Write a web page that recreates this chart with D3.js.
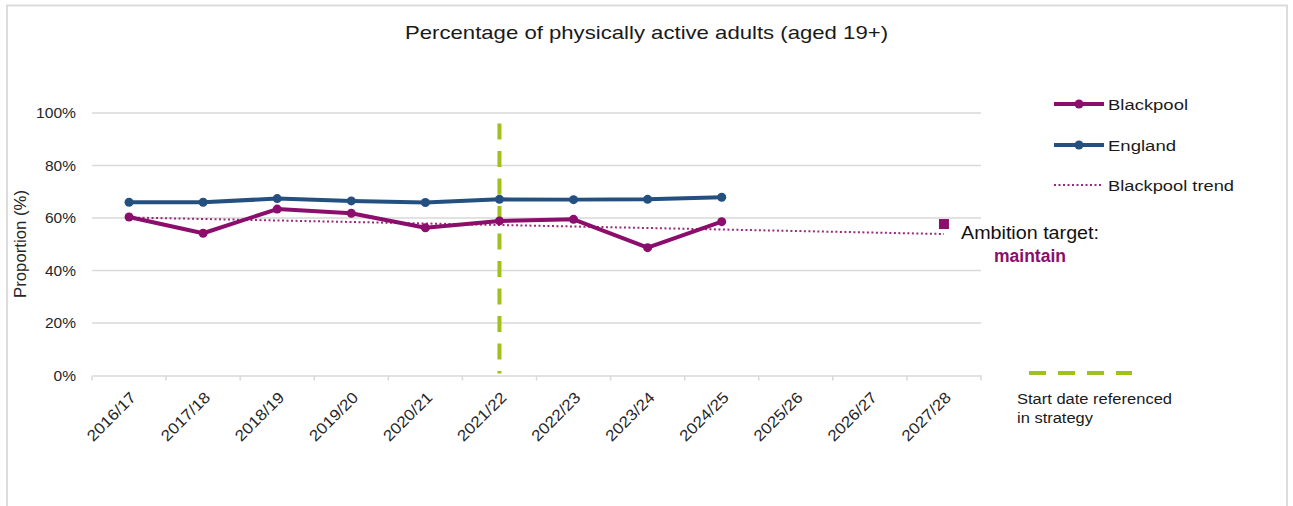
<!DOCTYPE html>
<html>
<head>
<meta charset="utf-8">
<script src="https://cdn.jsdelivr.net/npm/d3@7"></script>
<style>
  html, body { margin: 0; padding: 0; background: #fff; }
  svg { display: block; font-family: "Liberation Sans", Arial, sans-serif; }
</style>
</head>
<body>
<svg id="chart" width="1293" height="506"></svg>
<script>
// ---- data ----
const categories = ["2016/17","2017/18","2018/19","2019/20","2020/21","2021/22","2022/23","2023/24","2024/25","2025/26","2026/27","2027/28"];
const blackpoolCats = categories.slice(0, 9);
const blackpoolValues = [60.4, 54.2, 63.4, 61.8, 56.3, 58.9, 59.5, 48.7, 58.6];
const englandValues = [66.0, 66.0, 67.4, 66.5, 65.9, 67.1, 67.0, 67.1, 67.9];
const trendCats = ["2016/17", "2027/28"];
const trendValues = [60.2, 53.9];
const targetCat = "2027/28";
const targetValue = 57.7;
const startCat = "2021/22";
const startRange = [0.8, 96];
const yTicks = [0, 20, 40, 60, 80, 100];

const purple = "#8b0d6c";
const trendColor = "#9a2a7c";
const blue = "#24507f";
const green = "#9fc11c";
const grid = "#d9d9d9";

const svg = d3.select("#chart");

// outer frame
svg.append("path")
  .attr("d", "M7,506 V5.5 H1287 V506")
  .attr("fill", "none").attr("stroke", "#dcdcdc").attr("stroke-width", 2);

const x = d3.scaleBand().domain(categories).range([92, 981]);
const y = d3.scaleLinear().domain([0, 100]).range([375.5, 113]);
const cx = c => x(c) + x.bandwidth() / 2;

// title
svg.append("text")
  .attr("x", 405).attr("y", 39)
  .attr("font-size", 18.5).attr("fill", "#1a1a1a")
  .attr("textLength", 483).attr("lengthAdjust", "spacingAndGlyphs")
  .text("Percentage of physically active adults (aged 19+)");

// gridlines
svg.append("g").selectAll("line").data(yTicks.filter(d => d > 0)).join("line")
  .attr("x1", 92).attr("x2", 981)
  .attr("y1", d => y(d)).attr("y2", d => y(d))
  .attr("stroke", grid).attr("stroke-width", 1.5);

// y tick labels
svg.append("g").selectAll("text").data(yTicks).join("text")
  .attr("x", 76).attr("y", d => y(d)).attr("dy", "0.36em")
  .attr("text-anchor", "end").attr("font-size", 15).attr("fill", "#262626")
  .attr("textLength", d => d === 100 ? 40 : (d === 0 ? 22.5 : 31)).attr("lengthAdjust", "spacingAndGlyphs")
  .text(d => d + "%");

// y axis title
svg.append("text")
  .attr("transform", "translate(26,244) rotate(-90)")
  .attr("text-anchor", "middle").attr("font-size", 16).attr("fill", "#262626")
  .attr("textLength", 108).attr("lengthAdjust", "spacingAndGlyphs")
  .text("Proportion (%)");

// x axis
const xAxis = d3.axisBottom(x).tickSize(0).tickFormat("");
const gx = svg.append("g").attr("transform", `translate(0,${y(0)})`).call(xAxis);
gx.select(".domain").attr("stroke", grid).attr("stroke-width", 1.5);
// boundary tick marks
const bounds = categories.map(c => x(c)).concat([x(categories[categories.length - 1]) + x.bandwidth()]);
svg.append("g").selectAll("line").data(bounds).join("line")
  .attr("x1", d => d).attr("x2", d => d)
  .attr("y1", y(0)).attr("y2", y(0) + 5)
  .attr("stroke", grid).attr("stroke-width", 1.5);
// x tick labels
svg.append("g").selectAll("text").data(categories).join("text")
  .attr("transform", d => `translate(${cx(d) + 8},${y(0) + 23}) rotate(-45)`)
  .attr("text-anchor", "end").attr("font-size", 15.5).attr("fill", "#262626")
  .attr("textLength", 62).attr("lengthAdjust", "spacingAndGlyphs")
  .text(d => d);

// start date dashed line
svg.append("line")
  .attr("x1", cx(startCat)).attr("x2", cx(startCat))
  .attr("y1", y(startRange[1])).attr("y2", y(startRange[0]))
  .attr("stroke", green).attr("stroke-width", 4).attr("stroke-dasharray", "16,11.5");

// trend line
const line = d3.line().x(d => cx(d[0])).y(d => y(d[1]));
svg.append("path")
  .datum(trendCats.map((c, i) => [c, trendValues[i]]))
  .attr("d", line).attr("fill", "none")
  .attr("stroke", trendColor).attr("stroke-width", 2).attr("stroke-dasharray", "2,2.5");

// England
const engData = blackpoolCats.map((c, i) => [c, englandValues[i]]);
svg.append("path").datum(engData).attr("d", line)
  .attr("fill", "none").attr("stroke", blue).attr("stroke-width", 4).attr("stroke-linejoin", "round");
svg.append("g").selectAll("circle").data(engData).join("circle")
  .attr("cx", d => cx(d[0])).attr("cy", d => y(d[1])).attr("r", 4.5).attr("fill", blue);

// Blackpool
const bpData = blackpoolCats.map((c, i) => [c, blackpoolValues[i]]);
svg.append("path").datum(bpData).attr("d", line)
  .attr("fill", "none").attr("stroke", purple).attr("stroke-width", 4).attr("stroke-linejoin", "round");
svg.append("g").selectAll("circle").data(bpData).join("circle")
  .attr("cx", d => cx(d[0])).attr("cy", d => y(d[1])).attr("r", 4.5).attr("fill", purple);

// target marker
svg.append("rect")
  .attr("x", cx(targetCat) - 5).attr("y", y(targetValue) - 5)
  .attr("width", 10).attr("height", 10).attr("fill", purple);

// ambition text
svg.append("text")
  .attr("x", 1030).attr("y", 239).attr("text-anchor", "middle")
  .attr("font-size", 17.5).attr("fill", "#111")
  .attr("textLength", 138).attr("lengthAdjust", "spacingAndGlyphs")
  .text("Ambition target:");
svg.append("text")
  .attr("x", 1030).attr("y", 262).attr("text-anchor", "middle")
  .attr("font-size", 17.5).attr("font-weight", "bold").attr("fill", purple)
  .text("maintain");

// legend
const legend = [
  {name: "Blackpool", color: purple, type: "marker", y: 104, len: 80},
  {name: "England", color: blue, type: "marker", y: 145, len: 68},
  {name: "Blackpool trend", color: trendColor, type: "dot", y: 185, len: 126}
];
const lg = svg.append("g");
legend.forEach(l => {
  if (l.type === "marker") {
    lg.append("line").attr("x1", 1054).attr("x2", 1104).attr("y1", l.y).attr("y2", l.y)
      .attr("stroke", l.color).attr("stroke-width", 4);
    lg.append("circle").attr("cx", 1079).attr("cy", l.y).attr("r", 4.5).attr("fill", l.color);
  } else {
    lg.append("line").attr("x1", 1054).attr("x2", 1101).attr("y1", l.y).attr("y2", l.y)
      .attr("stroke", l.color).attr("stroke-width", 2).attr("stroke-dasharray", "2,2.5");
  }
  lg.append("text").attr("x", 1108).attr("y", l.y).attr("dy", "0.36em")
    .attr("font-size", 15.5).attr("fill", "#1a1a1a")
    .attr("textLength", l.len).attr("lengthAdjust", "spacingAndGlyphs")
    .text(l.name);
});

// start date legend
svg.append("line").attr("x1", 1029).attr("x2", 1132).attr("y1", 373).attr("y2", 373)
  .attr("stroke", green).attr("stroke-width", 4).attr("stroke-dasharray", "17,12");
svg.append("text").attr("x", 1017).attr("y", 404).attr("font-size", 14).attr("fill", "#1a1a1a")
  .attr("textLength", 155).attr("lengthAdjust", "spacingAndGlyphs")
  .text("Start date referenced");
svg.append("text").attr("x", 1017).attr("y", 423).attr("font-size", 14).attr("fill", "#1a1a1a")
  .attr("textLength", 76).attr("lengthAdjust", "spacingAndGlyphs")
  .text("in strategy");
</script>
</body>
</html>
